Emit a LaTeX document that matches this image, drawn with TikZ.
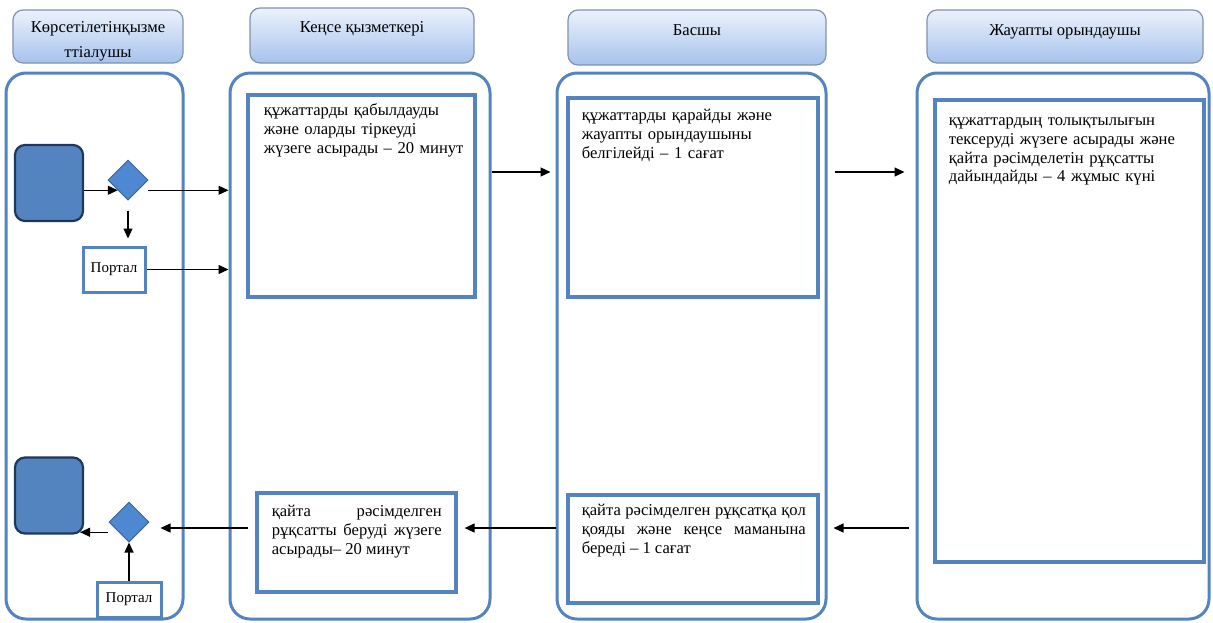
\documentclass[tikz,border=0pt]{standalone}
\usepackage{fontspec}
\setmainfont{Liberation Serif}
\usetikzlibrary{positioning,arrows.meta,shapes.geometric,calc}
\definecolor{laneblue}{RGB}{84,132,192}
\definecolor{headtop}{RGB}{236,242,252}
\definecolor{headbot}{RGB}{166,194,236}
\definecolor{headborder}{RGB}{128,146,174}
\definecolor{termborder}{RGB}{30,56,92}
\definecolor{gatefill}{RGB}{78,136,208}
\definecolor{gateborder}{RGB}{58,102,156}

\tikzset{
  lane/.style={draw=laneblue, line width=1.5pt, rounded corners=10pt, inner sep=0pt},
  lanehead/.style={draw=headborder, line width=0.6pt, rounded corners=5pt, top color=headtop, bottom color=headbot, inner sep=0pt},
  headtext/.style={font=\fontsize{8.3}{12.5}\selectfont, align=center, anchor=north, inner sep=0pt},
  taskbox/.style={draw=laneblue, line width=1.6pt, fill=white, inner sep=0pt},
  tasktext/.style={font=\fontsize{8.3}{9.3}\selectfont, anchor=north west, inner sep=0pt},
  termbox/.style={draw=termborder, line width=1.1pt, fill=laneblue, rounded corners=5pt, minimum width=34pt, minimum height=38pt},
  gate/.style={diamond, draw=gateborder, line width=0.5pt, fill=gatefill, minimum width=20pt, minimum height=20pt, inner sep=0pt},
  portal/.style={draw=laneblue, line width=1.5pt, fill=white, font=\fontsize{7.5}{9}\selectfont, inner sep=0pt},
  flow/.style={-{Triangle[length=5pt,width=4.5pt]}, line width=0.6pt}
}

\begin{document}
\begin{tikzpicture}[x=0.5pt, y=-0.5pt]
    \useasboundingbox (0,0) rectangle (1213,622);
    \hyphenpenalty=10000

    % Swimlanes
    \node[lane, minimum width=88.5pt, minimum height=273pt] (applicant) at (94.5,346) {};
    \node[lane, minimum width=130pt, minimum height=273pt] (office) at (360,346) {};
    \node[lane, minimum width=134.5pt, minimum height=273pt] (chief) at (691.5,346) {};
    \node[lane, minimum width=146pt, minimum height=273pt] (executor) at (1063,346) {};

    % Lane headers
    \node[lanehead, minimum width=85pt, minimum height=26.5pt] (hdapplicant) at (98,36.5) {};
    \node[lanehead, minimum width=112pt, minimum height=27.5pt] (hdoffice) at (362,35.5) {};
    \node[lanehead, minimum width=129pt, minimum height=27.5pt] (hdchief) at (697,37.5) {};
    \node[lanehead, minimum width=138pt, minimum height=26.5pt] (hdexecutor) at (1065,36.5) {};
    \node[headtext] (hdapplicanttxt) at (98,14.5) {\strut Көрсетілетінқызме\\ттіалушы};
    \node[headtext] (hdofficetxt) at (362,15) {\strut Кеңсе қызметкері};
    \node[headtext] (hdchieftxt) at (697,18) {\strut Басшы};
    \node[headtext] (hdexecutortxt) at (1065,18) {\strut Жауапты орындаушы};

    % Task boxes
    \node[taskbox, minimum width=113.5pt, minimum height=101pt] (recv) at (361.5,196) {};
    \node[taskbox, minimum width=125pt, minimum height=99.5pt] (review) at (693,197.5) {};
    \node[taskbox, minimum width=134.5pt, minimum height=231pt] (prep) at (1069.5,331) {};
    \node[taskbox, minimum width=99.5pt, minimum height=49.5pt] (issue) at (356.5,542.5) {};
    \node[taskbox, minimum width=125pt, minimum height=54pt] (sign) at (693,549) {};

    \node[tasktext, text width=104pt, align=left] (recvtxt) at ([shift={(17,9)}]recv.north west)
        {\strut құжаттарды қабылдауды\\және оларды тіркеуді\\жүзеге асырады – 20 минут};
    \node[tasktext, text width=112pt, align=left] (reviewtxt) at ([shift={(15,11)}]review.north west)
        {\strut құжаттарды қарайды және\\жауапты орындаушыны\\белгілейді – 1 сағат};
    \node[tasktext, text width=122pt, align=left] (preptxt) at ([shift={(15,14)}]prep.north west)
        {\strut құжаттардың толықтылығын\\тексеруді жүзеге асырады және\\қайта рәсімделетін рұқсатты\\дайындайды – 4 жұмыс күні};
    \node[tasktext, text width=85pt, align=justify] (issuetxt) at ([shift={(16,12)}]issue.north west)
        {\strut қайта рәсімделген\linebreak рұқсатты беруді жүзеге\linebreak асырады– 20 минут};
    \node[tasktext, text width=112pt, align=justify] (signtxt) at ([shift={(15,9)}]sign.north west)
        {\strut қайта рәсімделген рұқсатқа қол\linebreak қояды және кеңсе маманына\linebreak береді – 1 сағат};

    % Applicant lane
    \node[termbox] (start) at (49,183) {};
    \node[termbox] (finish) at (49,495.5) {};
    \node[gate] (d1) at (128,180) {};
    \node[gate] (d2) at (129,522) {};
    \node[portal, minimum width=31pt, minimum height=22.5pt] (portal1) at (114,269.5) {Портал};
    \node[portal, minimum width=32pt, minimum height=17.5pt] (portal2) at (129,599.5) {Портал};

    % Flow rows
    \coordinate (rowtop) at (0,172);
    \coordinate (rowbot) at (0,528);

    % Connectors
    \draw[flow] (start.east |- d1.south west) -- (d1.south west);
    \draw[flow] ([xshift=5pt]d1.south east) -- (d1.south east -| office.west);
    \draw[flow] ([yshift=-5pt]d1.south) -- ([yshift=3.5pt]d1.south |- portal1.north);
    \draw[flow] (portal1.east) -- (portal1.east -| office.west);
    \draw[flow] (office.east |- rowtop) -- ([xshift=-2.5pt]chief.west |- rowtop);
    \draw[flow] ([xshift=3.5pt]chief.east |- rowtop) -- ([xshift=-5.5pt]executor.west |- rowtop);
    \draw[flow] ([xshift=-3.5pt]executor.west |- rowbot) -- ([xshift=3pt]chief.east |- rowbot);
    \draw[flow] (chief.west |- rowbot) -- ([xshift=3.5pt]issue.east |- rowbot);
    \draw[flow] ([xshift=-3.5pt]issue.west |- rowbot) -- ([xshift=5.5pt]d2.east |- rowbot);
    \draw[flow] ([xshift=-5.5pt]d2.south west) -- ([xshift=-2pt]d2.south west -| finish.east);
    \draw[flow] (portal2.north) -- (d2.south);
\end{tikzpicture}
\end{document}
